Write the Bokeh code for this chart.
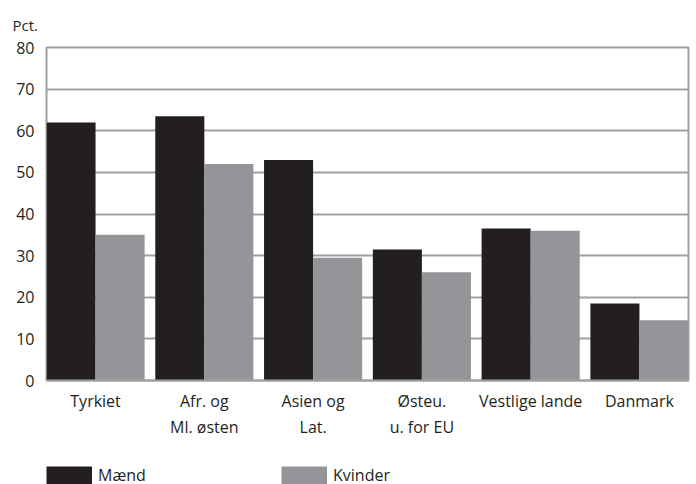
from bokeh.plotting import figure
from bokeh.layouts import column
from bokeh.models import (ColumnDataSource, FixedTicker, Range1d, Legend, LegendItem)
from bokeh.embed import file_html
from bokeh.resources import INLINE

categories = ["Tyrkiet", "Afr. og\nMl. østen", "Asien og\nLat.", "Østeu.\nu. for EU",
              "Vestlige lande", "Danmark"]
maend = [62, 63.5, 53, 31.5, 36.5, 18.5]
kvinder = [35, 52, 29.5, 26, 36, 14.5]
y_ticks = [0, 10, 20, 30, 40, 50, 60, 70, 80]
series_names = ["Mænd", "Kvinder"]

FONT = "Open Sans"
TXT = "#231f20"
BLACK = "#231f20"
GREY = "#939598"
GRID = "#a0a0a0"

xs = list(range(len(categories)))
src = ColumnDataSource(dict(
    xm=[x - 0.2255 for x in xs],
    xk=[x + 0.2255 for x in xs],
    m=maend, k=kvinder,
))

p = figure(width=690, height=440, output_backend="svg", toolbar_location=None,
           x_range=Range1d(-0.451, 5.451), y_range=Range1d(0, 80),
           min_border_left=46, min_border_right=2, min_border_top=47,
           min_border_bottom=59, title="Pct.")

p.title.align = "left"
p.title.vertical_align = "middle"
p.title.offset = -34
p.title.text_font = FONT
p.title.text_font_style = "normal"
p.title.text_font_size = "15px"
p.title.text_color = TXT
p.title.standoff = 24

p.vbar(x="xm", top="m", width=0.451, source=src, fill_color=BLACK, line_color=None)
p.vbar(x="xk", top="k", width=0.451, source=src, fill_color=GREY, line_color=None)

p.outline_line_color = GRID
p.outline_line_width = 2

p.xgrid.grid_line_color = None
p.ygrid.grid_line_color = GRID
p.ygrid.grid_line_width = 2
p.ygrid.ticker = FixedTicker(ticks=y_ticks)

p.yaxis.ticker = FixedTicker(ticks=y_ticks)
p.yaxis.axis_line_color = None
p.yaxis.major_tick_line_color = None
p.yaxis.minor_tick_line_color = None
p.yaxis.major_tick_out = 0
p.yaxis.minor_tick_out = 0
p.yaxis.major_label_standoff = 12
p.yaxis.major_label_text_font = FONT
p.yaxis.major_label_text_font_size = "16px"
p.yaxis.major_label_text_color = TXT

p.xaxis.ticker = FixedTicker(ticks=xs)
p.xaxis.major_label_overrides = {i: c for i, c in enumerate(categories)}
p.xaxis.axis_line_color = GRID
p.xaxis.axis_line_width = 2
p.xaxis.major_tick_line_color = None
p.xaxis.minor_tick_line_color = None
p.xaxis.major_tick_out = 0
p.xaxis.minor_tick_out = 0
p.xaxis.major_label_standoff = 9
p.xaxis.major_label_text_font = FONT
p.xaxis.major_label_text_font_size = "16px"
p.xaxis.major_label_text_color = TXT

# legend strip below the chart (hidden thick lines supply full-size swatches)
lp = figure(width=690, height=44, output_backend="svg", toolbar_location=None,
            x_axis_type=None, y_axis_type=None,
            x_range=Range1d(0, 1), y_range=Range1d(0, 1),
            min_border_left=46, min_border_right=2, min_border_top=24,
            min_border_bottom=0)
lp.outline_line_color = None
lp.xgrid.grid_line_color = None
lp.ygrid.grid_line_color = None
lm = lp.line(x="xm", y="m", source=src, line_color=BLACK, line_width=19,
             line_cap="butt", visible=False)
lk = lp.line(x="xk", y="k", source=src, line_color=GREY, line_width=19,
             line_cap="butt", visible=False)

legend = Legend(items=[LegendItem(label=series_names[0], renderers=[lm]),
                       LegendItem(label=series_names[1], renderers=[lk])],
                location="top_left", orientation="horizontal",
                glyph_width=46, glyph_height=19, label_height=19,
                label_width=183, spacing=0, label_standoff=6,
                padding=0, margin=0,
                border_line_color=None, background_fill_alpha=0,
                label_text_font=FONT, label_text_font_size="16px",
                label_text_color=TXT)
lp.add_layout(legend)

layout = column(p, lp, spacing=0)
open("out.html", "w").write(file_html(layout, INLINE))
